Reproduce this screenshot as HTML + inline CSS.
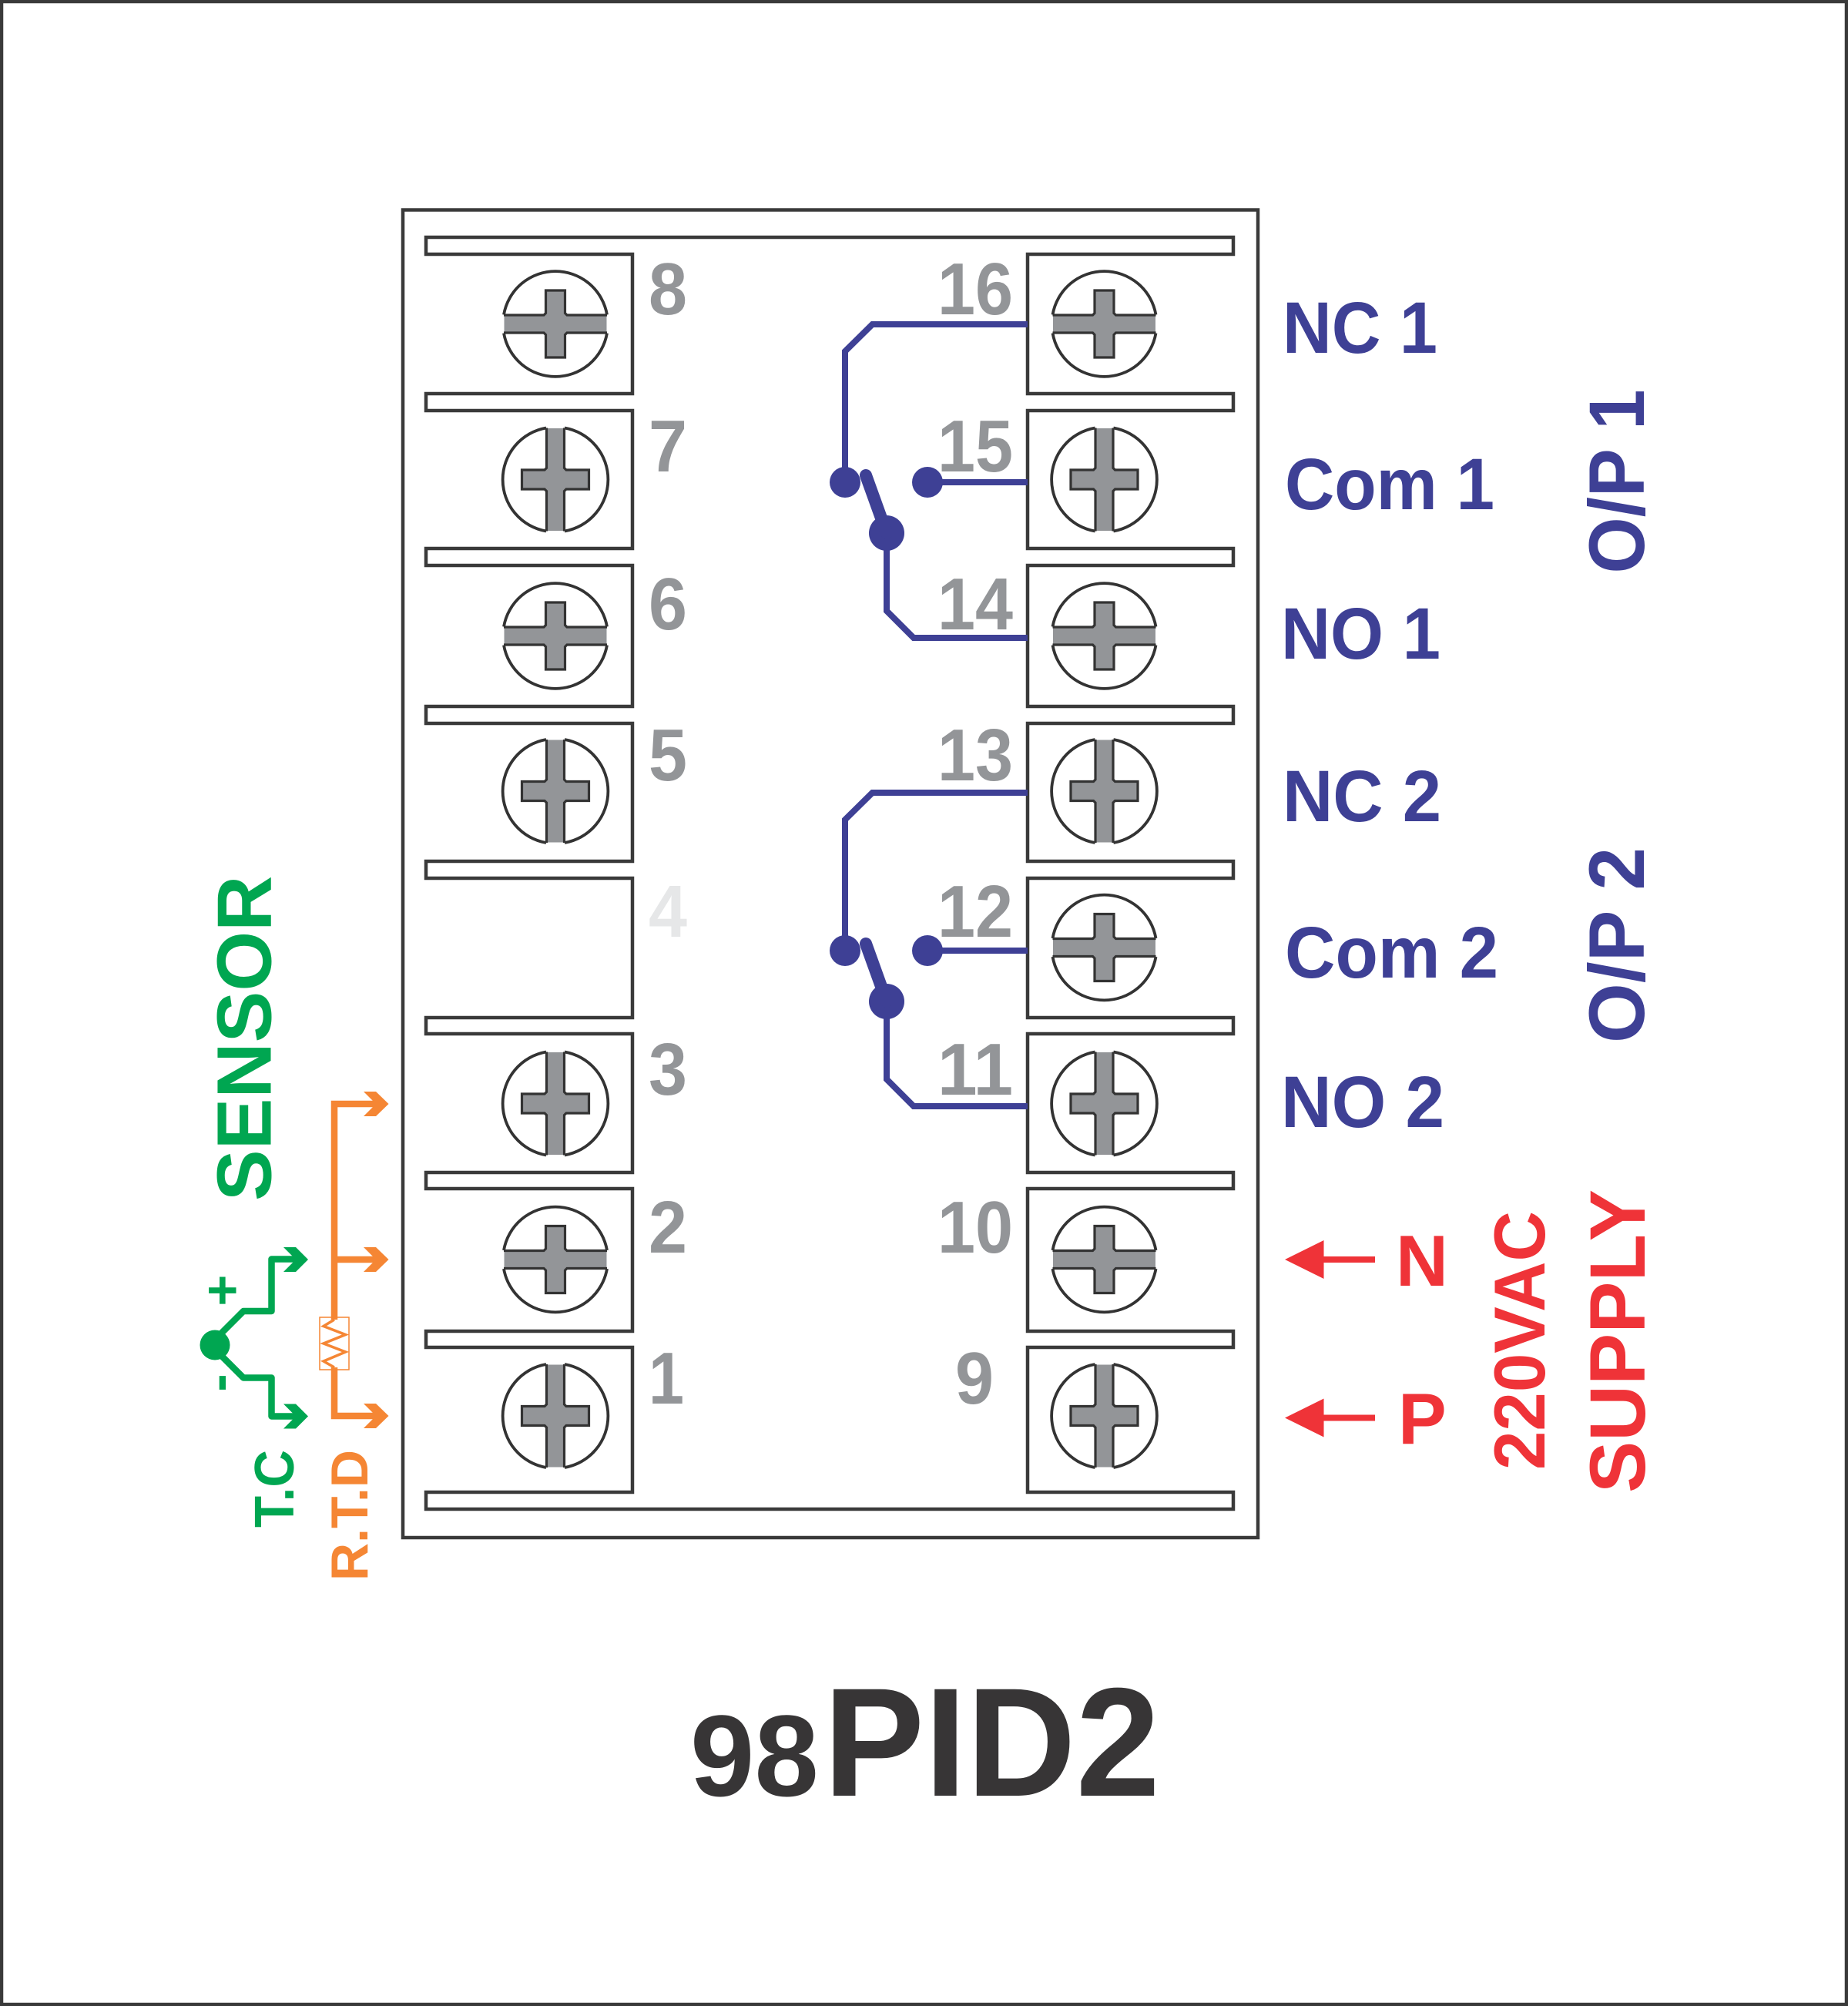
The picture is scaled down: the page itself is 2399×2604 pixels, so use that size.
<!DOCTYPE html>
<html><head><meta charset="utf-8"><style>html,body{margin:0;padding:0;background:#fff}svg{display:block}text{font-family:"Liberation Sans",Arial,sans-serif;font-weight:bold}</style></head><body>
<svg xmlns="http://www.w3.org/2000/svg" width="2399" height="2604" viewBox="0 0 2399 2604">
<defs>
<g id="h">
<path d="M-66.500,-11H-15L-12,-14V-43.500H12V-14L15,-11H66.500V11H15L12,14V43.500H-12V14L-15,11H-66.500Z" fill="#939598"/>
<path d="M-67,-11.500H-15L-12.500,-14V-43.500H12.500V-14L15,-11.500H67M-67,11.500H-15L-12.500,14V43.500H12.500V14L15,11.500H67" fill="none" stroke="#333" stroke-width="3.200"/>
<path d="M-67,-12A68,68 0 0 1 67,-12M-67,12A68,68 0 0 0 67,12" fill="none" stroke="#333" stroke-width="3.800"/>
</g>
<use id="v" href="#h" transform="rotate(90)"/>
</defs>
<rect width="2399" height="2604" fill="#fff"/>
<rect x="2" y="2" width="2395" height="2600" fill="none" stroke="#3a3a3a" stroke-width="4.500"/>
<rect x="523" y="272.500" width="1110" height="1723.500" fill="none" stroke="#3a3a3a" stroke-width="4.500"/>
<path d="M553,308H1601V330H1334V511H1601V533H1334V712H1601V734H1334V917H1601V939H1334V1118H1601V1140H1334V1321H1601V1342H1334V1522H1601V1543H1334V1728H1601V1749H1334V1937H1601V1959H553V1937H821V1749H553V1728H821V1543H553V1522H821V1342H553V1321H821V1140H553V1118H821V939H553V917H821V734H553V712H821V533H553V511H821V330H553Z" fill="none" stroke="#3a3a3a" stroke-width="4.500"/>

<use href="#h" transform="translate(721,420.500)"/>
<use href="#v" transform="translate(721,622.500)"/>
<use href="#h" transform="translate(721,825.500)"/>
<use href="#v" transform="translate(721,1027)"/>
<use href="#v" transform="translate(721,1432.500)"/>
<use href="#h" transform="translate(721,1635)"/>
<use href="#v" transform="translate(721,1838)"/>
<use href="#h" transform="translate(1433.500,420.500)"/>
<use href="#v" transform="translate(1433.500,622.500)"/>
<use href="#h" transform="translate(1433.500,825.500)"/>
<use href="#v" transform="translate(1433.500,1027)"/>
<use href="#h" transform="translate(1433.500,1230)"/>
<use href="#v" transform="translate(1433.500,1432.500)"/>
<use href="#h" transform="translate(1433.500,1635)"/>
<use href="#v" transform="translate(1433.500,1838)"/>

<g fill="#939598" font-size="96">
<text x="842" y="408" textLength="50" lengthAdjust="spacingAndGlyphs">8</text>
<text x="842" y="612" textLength="50" lengthAdjust="spacingAndGlyphs">7</text>
<text x="842" y="817" textLength="50" lengthAdjust="spacingAndGlyphs">6</text>
<text x="842" y="1013" textLength="50" lengthAdjust="spacingAndGlyphs">5</text>
<text x="842" y="1216" fill="#e6e7e8" textLength="50" lengthAdjust="spacingAndGlyphs">4</text>
<text x="842" y="1421" textLength="50" lengthAdjust="spacingAndGlyphs">3</text>
<text x="842" y="1626" textLength="50" lengthAdjust="spacingAndGlyphs">2</text>
<text x="842" y="1822" textLength="46" lengthAdjust="spacingAndGlyphs">1</text>
<text x="1217" y="408" textLength="98" lengthAdjust="spacingAndGlyphs">16</text>
<text x="1217" y="612" textLength="98" lengthAdjust="spacingAndGlyphs">15</text>
<text x="1217" y="817" textLength="98" lengthAdjust="spacingAndGlyphs">14</text>
<text x="1217" y="1013" textLength="98" lengthAdjust="spacingAndGlyphs">13</text>
<text x="1217" y="1216" textLength="98" lengthAdjust="spacingAndGlyphs">12</text>
<text x="1217" y="1421" textLength="98" lengthAdjust="spacingAndGlyphs">11</text>
<text x="1217" y="1626" textLength="98" lengthAdjust="spacingAndGlyphs">10</text>
<text x="1240" y="1822" textLength="50" lengthAdjust="spacingAndGlyphs">9</text>
</g>

<g id="sw">
<path d="M1334,421H1132.500L1097,456V626" fill="none" stroke="#3e4095" stroke-width="8"/>
<path d="M1151,692V793L1186,828H1334" fill="none" stroke="#3e4095" stroke-width="8"/>
<path d="M1204,626H1334" fill="none" stroke="#3e4095" stroke-width="8"/>
<circle cx="1097" cy="626" r="20" fill="#3e4095"/><circle cx="1204" cy="626" r="20" fill="#3e4095"/><circle cx="1151" cy="692" r="23" fill="#3e4095"/>
<path d="M1124,617L1151,692" stroke="#3e4095" stroke-width="16" stroke-linecap="round"/>
</g>
<use href="#sw" transform="translate(0,608)"/>

<g fill="#3e4095" font-size="95">
<text x="1665" y="458" textLength="201" lengthAdjust="spacingAndGlyphs">NC 1</text>
<text x="1668" y="661" textLength="272" lengthAdjust="spacingAndGlyphs">Com 1</text>
<text x="1663" y="855" textLength="207" lengthAdjust="spacingAndGlyphs">NO 1</text>
<text x="1665" y="1066" textLength="206" lengthAdjust="spacingAndGlyphs">NC 2</text>
<text x="1668" y="1269" textLength="277" lengthAdjust="spacingAndGlyphs">Com 2</text>
<text x="1663" y="1463" textLength="212" lengthAdjust="spacingAndGlyphs">NO 2</text>
<text transform="translate(2134,744.500) rotate(-90)" font-size="102" textLength="239" lengthAdjust="spacingAndGlyphs">O/P 1</text>
<text transform="translate(2134,1354) rotate(-90)" font-size="102" textLength="254" lengthAdjust="spacingAndGlyphs">O/P 2</text>
</g>

<g fill="#ef3338">
<text x="1812" y="1669" font-size="94">N</text><text x="1815" y="1874" font-size="94">P</text>
<text transform="translate(2005,1908) rotate(-90)" font-size="94" textLength="336" lengthAdjust="spacingAndGlyphs">220VAC</text>
<text transform="translate(2135,1938) rotate(-90)" font-size="102" textLength="394" lengthAdjust="spacingAndGlyphs">SUPPLY</text>
<path d="M1668,1635L1718.500,1610V1631H1785V1639H1718.500V1660Z"/>
<path d="M1668,1840.500L1718.500,1815.500V1836.500H1785V1844.500H1718.500V1865.500Z"/>
</g>

<g fill="#00a651">
<text transform="translate(351.500,1559) rotate(-90)" font-size="100">SENSOR</text>
<text transform="translate(381,1983) rotate(-90)" font-size="72" textLength="101" lengthAdjust="spacingAndGlyphs">T.C</text>
<text transform="translate(312,1675) rotate(-90)" font-size="70" text-anchor="middle">+</text>
<text transform="translate(307,1795) rotate(-90)" font-size="70" text-anchor="middle">-</text>
<circle cx="279" cy="1746" r="19.500"/>
<path d="M279,1739L316,1702H352.500V1634.500H390M279,1751.500L316,1788.500H352.500V1838.500H390" fill="none" stroke="#00a651" stroke-width="8.500" stroke-linejoin="round"/>
<path d="M368,1619H384L400,1635L384,1651H368L384,1635Z"/>
<path d="M368,1822.500H384L400,1838.500L384,1854.500H368L384,1838.500Z"/>
</g>

<g fill="#f58634">
<text transform="translate(477,2052) rotate(-90)" font-size="68" textLength="170" lengthAdjust="spacingAndGlyphs">R.T.D</text>
<path d="M434,1713V1433H495M434,1635H495M434,1775V1838H495" fill="none" stroke="#f58634" stroke-width="8.500"/>
<path d="M472,1417H488L504.500,1433L488,1449H472L488,1433Z"/>
<path d="M472,1619H488L504.500,1635L488,1651H472L488,1635Z"/>
<path d="M472,1822H488L504.500,1838L488,1854H472L488,1838Z"/>
<rect x="415" y="1710" width="38" height="68" fill="none" stroke="#f58634" stroke-width="1.500"/>
<path d="M434,1713L420,1721.500L448.500,1732.500L420,1744L448.500,1755L420,1767L434,1775" fill="none" stroke="#f58634" stroke-width="3.500"/>
</g>

<g fill="#373536">
<text x="896" y="2331" font-size="150">98</text>
<text x="1069" y="2331" font-size="201" textLength="437" lengthAdjust="spacingAndGlyphs">PID2</text>
</g>
</svg>
</body></html>
